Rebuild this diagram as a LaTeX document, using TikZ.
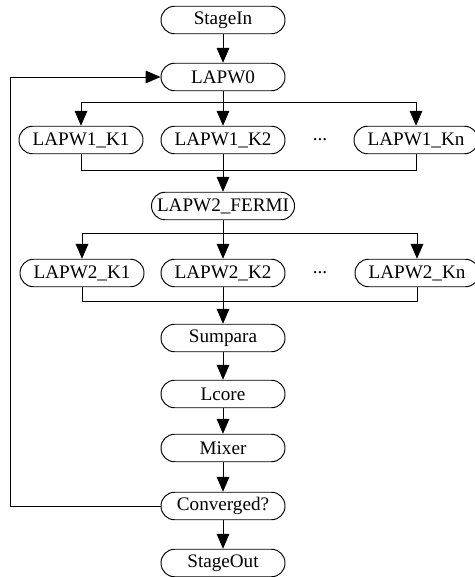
\documentclass[tikz,border=0pt]{standalone}
\usepackage{fontspec}
\setmainfont{Liberation Serif}
\usetikzlibrary{arrows.meta}

\begin{document}
\begin{tikzpicture}[x=0.02cm,y=-0.02cm,
  stage/.style={draw,rectangle,rounded corners=0.27cm,minimum width=2.48cm,minimum height=0.55cm,inner sep=0pt,line width=0.55pt,font=\fontsize{10.9}{12}\selectfont},
  wide/.style={stage,minimum width=2.86cm},
  flow/.style={line width=0.55pt,-{Triangle[width=7.2pt,length=8.5pt]}},
  link/.style={line width=0.55pt}]

\useasboundingbox (0,0) rectangle (474,577);

% Main column
\node[stage] (stagein) at (223,20) {StageIn};
\node[stage] (lapw0) at (223,77) {LAPW0};

% LAPW1 row
\node[stage] (w1k1) at (81,140) {LAPW1\_K1};
\node[stage] (w1k2) at (223,140) {LAPW1\_K2};
\node[stage] (w1kn) at (416,140) {LAPW1\_Kn};
\node[font=\fontsize{10.9}{12}\selectfont] (dots1) at (320,140) {...};

\node[wide] (fermi) at (223,206) {LAPW2\_FERMI};

% LAPW2 row
\node[stage] (w2k1) at (82,273) {LAPW2\_K1};
\node[stage] (w2k2) at (223,273) {LAPW2\_K2};
\node[stage] (w2kn) at (417,273) {LAPW2\_Kn};
\node[font=\fontsize{10.9}{12}\selectfont] (dots2) at (320,273) {...};

\node[stage] (sumpara) at (223,338) {Sumpara};
\node[stage] (lcore) at (223,394) {Lcore};
\node[stage] (mixer) at (223,448) {Mixer};
\node[stage] (conv) at (223,506) {Converged?};
\node[stage] (stageout) at (223,563) {StageOut};

% Split and join points
\coordinate (split1) at (223,102);
\coordinate (join1) at (223,170);
\coordinate (split2) at (223,233);
\coordinate (join2) at (223,301);
\coordinate (back) at (10,77);

\draw[flow] (stagein) -- (lapw0);

% --- LAPW1 fan ---
\draw[link] (lapw0) -- (split1);
\draw[flow] (split1) -| (w1k1);
\draw[flow] (split1) -- (w1k2);
\draw[flow] (split1) -| (w1kn);
\draw[link] (w1k1) |- (join1);
\draw[link] (w1kn) |- (join1);
\draw[link] (w1k2) -- (join1);
\draw[flow] (join1) -- (fermi);

% --- LAPW2 fan ---
\draw[link] (fermi) -- (split2);
\draw[flow] (split2) -| (w2k1);
\draw[flow] (split2) -- (w2k2);
\draw[flow] (split2) -| (w2kn);
\draw[link] (w2k1) |- (join2);
\draw[link] (w2kn) |- (join2);
\draw[link] (w2k2) -- (join2);
\draw[flow] (join2) -- (sumpara);

\draw[flow] (sumpara) -- (lcore);
\draw[flow] (lcore) -- (mixer);
\draw[flow] (mixer) -- (conv);
\draw[flow] (conv) -- (stageout);

% Loop back
\draw[flow] (conv.west) -| (back) -- (lapw0.west);

\end{tikzpicture}
\end{document}
